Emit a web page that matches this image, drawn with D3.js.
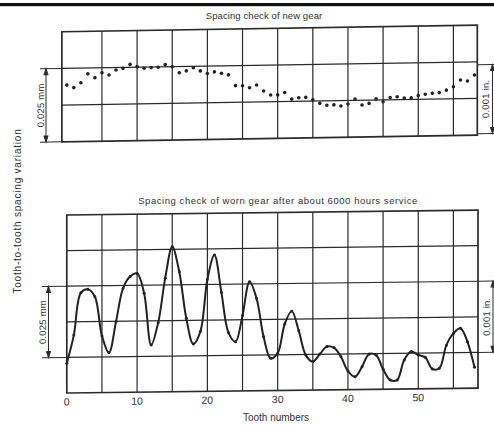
<!DOCTYPE html>
<html>
<head>
<meta charset="utf-8">
<style>
  body { margin: 0; background: #fff; }
  text { font-family: "Liberation Sans", "DejaVu Sans", sans-serif; fill: #333; }
</style>
</head>
<body>
<svg id="chart" width="494" height="425"></svg>
<script src="https://cdn.jsdelivr.net/npm/d3@7"></script>
<script>
// tooth-to-tooth spacing variation, micrometres (one grid row = 12.5 um)
const newGear = [19.3, 18.4, 20.0, 23.0, 21.7, 23.3, 22.5, 24.2, 24.7, 26.0,
  25.2, 24.6, 24.8, 24.9, 25.8, 25.0, 22.9, 23.5, 24.5, 23.4,
  22.5, 23.0, 22.5, 21.9, 18.2, 18.1, 17.4, 18.3, 16.2, 14.8,
  14.8, 15.6, 13.3, 13.7, 13.8, 12.9, 11.7, 11.0, 11.1, 10.7,
  11.3, 13.0, 10.9, 11.4, 12.9, 11.9, 13.3, 13.5, 13.0, 13.1,
  13.8, 14.2, 14.5, 14.7, 15.5, 16.6, 18.9, 18.5, 20.5]
const wornGear = [10.4, 20.3, 35.1, 36.3, 33.7, 19.9, 14.0, 24.8, 36.5, 40.6,
  41.7, 34.7, 16.5, 24.3, 39.9, 50.9, 42.1, 25.7, 16.7, 21.0,
  39.3, 47.8, 34.6, 20.5, 17.3, 26.5, 38.3, 32.4, 18.9, 11.3,
  13.1, 23.3, 27.8, 20.9, 12.3, 10.0, 12.6, 15.2, 14.8, 11.6,
  6.5, 4.5, 8.0, 12.4, 12.0, 7.0, 3.2, 3.2, 10.2, 13.1,
  11.9, 11.0, 6.9, 7.1, 15.2, 19.3, 21.1, 16.3, 7.3]
const gridTeeth = [5, 10, 15, 20, 25, 30, 35, 40, 45, 50, 55]
const toothTicks = [0, 10, 20, 30, 40, 50]
const topRows = [12.5, 25]
const lowRows = [12.5, 25, 37.5, 50]

let svg = d3.select("#chart")
let ink = "#2b2b2b"

// top black edge of the scanned page
svg.append("rect").attr("x", 0).attr("y", 3).attr("width", 494).attr("height", 3.2).attr("fill", "#111")

let x = d3.scaleLinear().domain([0, 58.5]).range([66.8, 478])
let yTop = d3.scaleLinear().domain([0, 37.5]).range([141.7, 31.7])
let yLow = d3.scaleLinear().domain([0, 62.5]).range([393, 215])

// the scan is slightly tilted: right side sits higher
function tilt(k) { return `matrix(1,${-k},0,1,0,${k * 66.8})` }

function bracket(g, x0, x1, xv, ya, yb) {
    g.append("line").attr("x1", x0).attr("x2", x1).attr("y1", ya).attr("y2", ya)
    g.append("line").attr("x1", x0).attr("x2", x1).attr("y1", yb).attr("y2", yb)
    g.append("line").attr("x1", xv).attr("x2", xv).attr("y1", ya).attr("y2", yb)
    g.append("path").attr("d", `M${xv},${ya}l-2,6h4z`).attr("fill", ink)
    g.append("path").attr("d", `M${xv},${yb}l-2,-6h4z`).attr("fill", ink)
}

function sideLabel(g, cx, cy, txt, size, spacing) {
    g.append("text").attr("transform", `translate(${cx},${cy}) rotate(-90)`)
        .attr("text-anchor", "middle").attr("dominant-baseline", "central")
        .attr("stroke", "none").attr("fill", "#333")
        .attr("font-size", size || 9.5).attr("letter-spacing", spacing || 0).text(txt)
}

// ---------- new gear ----------
let newPanel = svg.append("g").attr("transform", tilt(0.016))
    .attr("stroke", ink).attr("fill", "none")
newPanel.selectAll(".vg").data(gridTeeth).enter().append("line")
    .attr("x1", d => x(d)).attr("x2", d => x(d))
    .attr("y1", yTop(0)).attr("y2", yTop(37.5)).attr("stroke-width", 1.2)
newPanel.selectAll(".hg").data(topRows).enter().append("line")
    .attr("x1", x(-0.7)).attr("x2", x(58.4))
    .attr("y1", d => yTop(d)).attr("y2", d => yTop(d)).attr("stroke-width", 1.2)
newPanel.append("rect").attr("x", x(-0.7)).attr("y", yTop(37.5))
    .attr("width", x(58.4) - x(-0.7)).attr("height", yTop(0) - yTop(37.5)).attr("stroke-width", 1.7)
newPanel.selectAll("circle").data(newGear).enter().append("circle")
    .attr("cx", (d, i) => x(i)).attr("cy", d => yTop(d)).attr("r", 1.8)
    .attr("fill", "#222").attr("stroke", "none")
bracket(newPanel, 40, x(-0.7), 46, yTop(25), yTop(0))
bracket(newPanel, 477, 494, 492.5, yTop(24), yTop(0.5))
sideLabel(newPanel, 40.5, yTop(12.5), "0.025 mm", 9.5, 0.2)
sideLabel(newPanel, 486, yTop(12.3), "0.001 in.", 9.5, 0.2)

// ---------- worn gear ----------
let wornPanel = svg.append("g").attr("transform", tilt(0.012))
    .attr("stroke", ink).attr("fill", "none")
wornPanel.selectAll(".vg").data(gridTeeth).enter().append("line")
    .attr("x1", d => x(d)).attr("x2", d => x(d))
    .attr("y1", yLow(0)).attr("y2", yLow(62.5)).attr("stroke-width", 1.2)
wornPanel.selectAll(".hg").data(lowRows).enter().append("line")
    .attr("x1", x(0)).attr("x2", x(58.5))
    .attr("y1", d => yLow(d)).attr("y2", d => yLow(d)).attr("stroke-width", 1.2)
wornPanel.append("rect").attr("x", x(0)).attr("y", yLow(62.5))
    .attr("width", x(58.5) - x(0)).attr("height", yLow(0) - yLow(62.5)).attr("stroke-width", 1.7)

let line = d3.line().x((d, i) => x(i)).y(d => yLow(d)).curve(d3.curveCatmullRom.alpha(0.5))
wornPanel.append("path").attr("d", line(wornGear)).attr("stroke", "#222").attr("stroke-width", 2)
wornPanel.selectAll("circle").data(wornGear).enter().append("circle")
    .attr("cx", (d, i) => x(i)).attr("cy", d => yLow(d)).attr("r", 1.5)
    .attr("fill", "#222").attr("stroke", "none")
bracket(wornPanel, 42, x(0), 48.5, yLow(37.5), yLow(12.5))
bracket(wornPanel, 478, 494, 493, yLow(37.5), yLow(12.5))
sideLabel(wornPanel, 43, yLow(25), "0.025 mm", 9.5, 0.2)
sideLabel(wornPanel, 486.5, yLow(25), "0.001 in.", 9.5, 0.2)

wornPanel.selectAll(".tick").data(toothTicks).enter().append("text")
    .attr("x", d => x(d)).attr("y", 405.5).attr("text-anchor", "middle")
    .attr("stroke", "none").attr("fill", "#333").attr("font-size", 10.5).text(d => d)

// ---------- titles ----------
svg.append("text").attr("x", 264).attr("y", 18.5).attr("text-anchor", "middle")
    .attr("font-size", 9.5).attr("letter-spacing", 0.1).text("Spacing check of new gear")
svg.append("text").attr("x", 278).attr("y", 204).attr("text-anchor", "middle")
    .attr("font-size", 9.5).attr("letter-spacing", 0.55)
    .text("Spacing check of worn gear after about 6000 hours service")
svg.append("text").attr("x", 276).attr("y", 421).attr("text-anchor", "middle")
    .attr("font-size", 10).text("Tooth numbers")
sideLabel(svg, 17, 211, "Tooth-to-tooth spacing variation", 10, 0.8)
</script>
</body>
</html>
